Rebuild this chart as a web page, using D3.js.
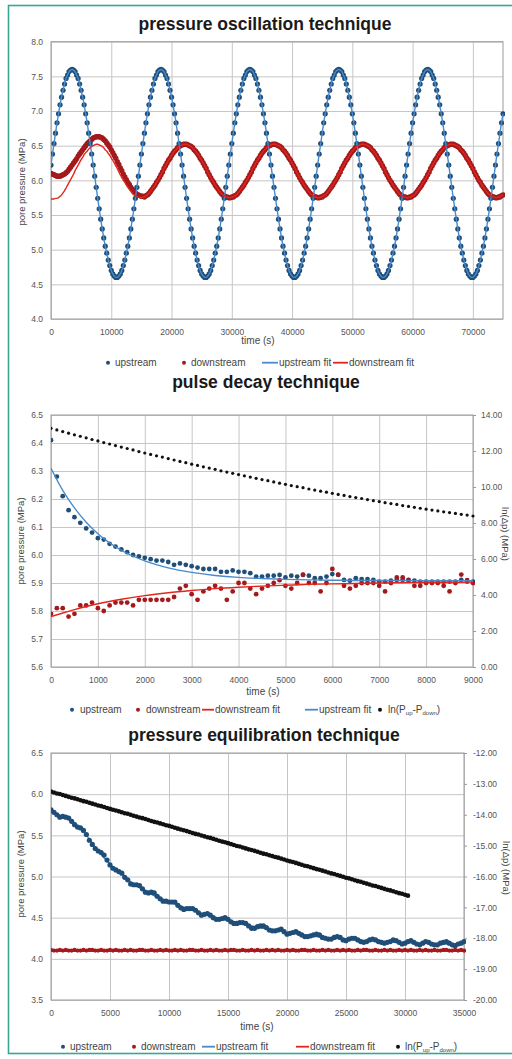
<!DOCTYPE html>
<html><head><meta charset="utf-8">
<script src="https://cdn.jsdelivr.net/npm/d3@7"></script>
<style>body{margin:0;background:#fff}svg{display:block}</style>
</head><body><svg id="c" width="512" height="1059"></svg>
<script>
// ---------------- DATA ----------------
// Panel 1: pressure oscillation technique (sampling interval 250 s)
const oscStep = 250;
const oscUpstream = [
6.22,6.38,6.53,6.68,6.83,6.96,7.09,7.20,7.30,7.39,7.47,7.52,7.57,7.59,
7.60,7.59,7.57,7.52,7.47,7.39,7.30,7.20,7.09,6.96,6.83,6.68,6.53,6.38,6.22,6.06,5.90,5.74,5.59,5.44,5.30,5.17,5.05,4.95,4.85,4.77,4.70,4.65,4.62,4.60,4.60,4.62,4.65,4.70,4.77,4.85,4.95,5.05,5.17,5.30,5.44,5.59,5.74,5.90,6.06,6.22,6.38,6.53,6.68,6.83,6.96,7.09,7.20,7.30,7.39,7.47,7.52,7.57,7.59,
7.60,7.59,7.57,7.52,7.47,7.39,7.30,7.20,7.09,6.96,6.83,6.68,6.53,6.38,6.22,6.06,5.90,5.74,5.59,5.44,5.30,5.17,5.05,4.95,4.85,4.77,4.70,4.65,4.62,4.60,4.60,4.62,4.65,4.70,4.77,4.85,4.95,5.05,5.17,5.30,5.44,5.59,5.74,5.90,6.06,6.22,6.38,6.53,6.68,6.83,6.96,7.09,7.20,7.30,7.39,7.47,7.52,7.57,7.59,
7.60,7.59,7.57,7.52,7.47,7.39,7.30,7.20,7.09,6.96,6.83,6.68,6.53,6.38,6.22,6.06,5.90,5.74,5.59,5.44,5.30,5.17,5.05,4.95,4.85,4.77,4.70,4.65,4.62,4.60,4.60,4.62,4.65,4.70,4.77,4.85,4.95,5.05,5.17,5.30,5.44,5.59,5.74,5.90,6.06,6.22,6.38,6.53,6.68,6.83,6.96,7.09,7.20,7.30,7.39,7.47,7.52,7.57,7.59,
7.60,7.59,7.57,7.52,7.47,7.39,7.30,7.20,7.09,6.96,6.83,6.68,6.53,6.38,6.22,6.06,5.90,5.74,5.59,5.44,5.30,5.17,5.05,4.95,4.85,4.77,4.70,4.65,4.62,4.60,4.60,4.62,4.65,4.70,4.77,4.85,4.95,5.05,5.17,5.30,5.44,5.59,5.74,5.90,6.06,6.22,6.38,6.53,6.68,6.83,6.96,7.09,7.20,7.30,7.39,7.47,7.52,7.57,7.59,
7.60,7.59,7.57,7.52,7.47,7.39,7.30,7.20,7.09,6.96,6.83,6.68,6.53,6.38,6.22,6.06,5.90,5.74,5.59,5.44,5.30,5.17,5.05,4.95,4.85,4.77,4.70,4.65,4.62,4.60,4.60,4.62,4.65,4.70,4.77,4.85,4.95,5.05,5.17,5.30,5.44,5.59,5.74,5.90,6.06,6.22,6.38,6.53,6.68,6.83,6.96
];
const oscDownstream = [
6.10,6.09,6.08,6.07,6.06,6.06,6.06,6.07,6.08,6.09,6.11,6.13,6.16,6.19,6.22,6.25,6.28,6.31,6.35,6.38,
6.41,6.44,6.47,6.50,6.53,6.55,6.57,6.59,6.61,6.62,6.63,6.63,6.63,6.62,6.61,6.59,6.57,6.54,6.51,6.48,
6.44,6.40,6.36,6.32,6.27,6.23,6.18,6.14,6.09,6.05,6.01,5.97,5.94,5.90,5.87,5.85,5.82,5.80,5.79,5.78,5.77,5.77,
5.76,5.78,5.79,5.81,5.84,5.87,5.90,5.93,5.97,6.00,6.04,6.08,6.12,6.17,6.21,6.25,6.29,6.32,6.36,6.39,6.42,6.44,6.47,6.49,6.50,6.51,6.52,
6.52,6.52,6.51,6.50,6.49,6.47,6.44,6.42,6.39,6.36,6.32,6.29,6.25,6.21,6.17,6.12,6.08,6.04,6.00,5.97,5.93,5.90,5.87,5.84,5.81,5.79,5.78,5.76,5.76,5.75,5.75,5.76,5.76,5.78,5.79,5.81,5.84,5.87,5.90,5.93,5.97,6.00,6.04,6.08,6.12,6.17,6.21,6.25,6.29,6.32,6.36,6.39,6.42,6.44,6.47,6.49,6.50,6.51,6.52,
6.52,6.52,6.51,6.50,6.49,6.47,6.44,6.42,6.39,6.36,6.32,6.29,6.25,6.21,6.17,6.12,6.08,6.04,6.00,5.97,5.93,5.90,5.87,5.84,5.81,5.79,5.78,5.76,5.76,5.75,5.75,5.76,5.76,5.78,5.79,5.81,5.84,5.87,5.90,5.93,5.97,6.00,6.04,6.08,6.12,6.17,6.21,6.25,6.29,6.32,6.36,6.39,6.42,6.44,6.47,6.49,6.50,6.51,6.52,
6.52,6.52,6.51,6.50,6.49,6.47,6.44,6.42,6.39,6.36,6.32,6.29,6.25,6.21,6.17,6.12,6.08,6.04,6.00,5.97,5.93,5.90,5.87,5.84,5.81,5.79,5.78,5.76,5.76,5.75,5.75,5.76,5.76,5.78,5.79,5.81,5.84,5.87,5.90,5.93,5.97,6.00,6.04,6.08,6.12,6.17,6.21,6.25,6.29,6.32,6.36,6.39,6.42,6.44,6.47,6.49,6.50,6.51,6.52,
6.52,6.52,6.51,6.50,6.49,6.47,6.44,6.42,6.39,6.36,6.32,6.29,6.25,6.21,6.17,6.12,6.08,6.04,6.00,5.97,5.93,5.90,5.87,5.84,5.81,5.79,5.78,5.76,5.76,5.75,5.75,5.76,5.76,5.78,5.79
];
const oscDownstreamFit = [
5.73,5.73,5.73,5.74,5.74,5.75,5.77,5.79,5.82,5.85,5.89,5.93,5.97,6.01,6.05,6.09,6.14,6.18,6.22,6.26,6.30,6.33,6.37,6.40,6.42,6.45,6.47,6.49,6.50,6.51,
6.52,6.52,6.51,6.50,6.49,6.47,6.44,6.42,6.39,6.36,6.32,6.29,6.25,6.21,6.17,6.12,6.08,6.04,6.00,5.97,5.93,5.90,5.87,5.84,5.81,5.79,5.78,5.76,5.76,5.75,5.75,5.76,5.76,5.78,5.79,5.81,5.84,5.87,5.90,5.93,5.97,6.00,6.04,6.08,6.12,6.17,6.21,6.25,6.29,6.32,6.36,6.39,6.42,6.44,6.47,6.49,6.50,6.51,6.52,
6.52,6.52,6.51,6.50,6.49,6.47,6.44,6.42,6.39,6.36,6.32,6.29,6.25,6.21,6.17,6.12,6.08,6.04,6.00,5.97,5.93,5.90,5.87,5.84,5.81,5.79,5.78,5.76,5.76,5.75,5.75,5.76,5.76,5.78,5.79,5.81,5.84,5.87,5.90,5.93,5.97,6.00,6.04,6.08,6.12,6.17,6.21,6.25,6.29,6.32,6.36,6.39,6.42,6.44,6.47,6.49,6.50,6.51,6.52,
6.52,6.52,6.51,6.50,6.49,6.47,6.44,6.42,6.39,6.36,6.32,6.29,6.25,6.21,6.17,6.12,6.08,6.04,6.00,5.97,5.93,5.90,5.87,5.84,5.81,5.79,5.78,5.76,5.76,5.75,5.75,5.76,5.76,5.78,5.79,5.81,5.84,5.87,5.90,5.93,5.97,6.00,6.04,6.08,6.12,6.17,6.21,6.25,6.29,6.32,6.36,6.39,6.42,6.44,6.47,6.49,6.50,6.51,6.52,
6.52,6.52,6.51,6.50,6.49,6.47,6.44,6.42,6.39,6.36,6.32,6.29,6.25,6.21,6.17,6.12,6.08,6.04,6.00,5.97,5.93,5.90,5.87,5.84,5.81,5.79,5.78,5.76,5.76,5.75,5.75,5.76,5.76,5.78,5.79,5.81,5.84,5.87,5.90,5.93,5.97,6.00,6.04,6.08,6.12,6.17,6.21,6.25,6.29,6.32,6.36,6.39,6.42,6.44,6.47,6.49,6.50,6.51,6.52,
6.52,6.52,6.51,6.50,6.49,6.47,6.44,6.42,6.39,6.36,6.32,6.29,6.25,6.21,6.17,6.12,6.08,6.04,6.00,5.97,5.93,5.90,5.87,5.84,5.81,5.79,5.78,5.76,5.76,5.75,5.75,5.76,5.76,5.78,5.79
];
const oscXTicks = [0,10000,20000,30000,40000,50000,60000,70000];
const oscYTicks = [4.0,4.5,5.0,5.5,6.0,6.5,7.0,7.5,8.0];
const oscLegend = ["upstream","downstream","upstream fit","downstream fit"];

// Panel 2: pulse decay technique (sampling interval 125 s)
const pdStep = 125;
const pdUpstream = [
6.41,6.28,6.21,6.16,6.135,6.115,6.095,6.08,6.06,6.055,
6.04,6.03,6.02,6.01,6.00,5.995,5.99,5.985,5.98,5.98,
5.975,5.965,5.97,5.965,5.96,5.955,5.95,5.95,5.95,5.94,
5.94,5.945,5.94,5.94,5.935,
5.923,5.923,5.926,5.926,5.929,5.92,5.926,5.923,5.929,5.926,
5.917,5.917,5.923,5.932,5.929,5.911,5.908,5.917,5.914,5.914,
5.911,5.905,5.905,5.908,5.911,5.911,5.911,5.908,5.905,5.905,
5.905,5.905,5.905,5.905,5.905,5.911,5.905,5.905
];
const pdDownstream = [
5.79,5.81,5.81,5.78,5.79,5.82,5.82,5.83,5.81,5.80,
5.82,5.83,5.83,5.83,5.82,5.84,5.84,5.84,5.84,5.84,
5.84,5.85,5.88,5.89,5.86,5.84,5.87,5.88,5.89,5.88,
5.84,5.87,5.90,5.90,5.88,
5.86,5.88,5.89,5.90,5.91,5.89,5.88,5.90,5.93,5.90,
5.90,5.87,5.90,5.95,5.93,5.89,5.88,5.89,5.90,5.90,
5.90,5.89,5.87,5.90,5.92,5.92,5.91,5.89,5.89,5.90,
5.90,5.90,5.89,5.87,5.90,5.93,5.91,5.90
];
const pdLnDp = [
13.26,13.17,13.08,12.99,12.90,12.82,12.73,12.64,12.56,12.47,
12.39,12.30,12.22,12.14,12.06,11.97,11.89,11.81,11.73,11.66,
11.58,11.50,11.42,11.35,11.27,11.20,11.12,11.05,10.98,10.90,
10.83,10.76,10.69,10.62,10.55,10.48,10.41,10.35,10.28,10.21,
10.15,10.08,10.02,9.96,9.89,9.83,9.77,9.71,9.65,9.59,
9.53,9.47,9.41,9.36,9.30,9.24,9.19,9.13,9.08,9.03,
8.97,8.92,8.87,8.82,8.77,8.72,8.67,8.62,8.58,8.53,
8.48,8.44,8.39
];
const pdFitTimes = [0,250,500,750,1000,1500,2000,2500,3000,3500,4000,4500,5000,5500,6000,6500,7000,7500,8000,8500,9000];
const pdUpstreamFit = [6.310,6.231,6.168,6.117,6.076,6.017,5.979,5.954,5.938,5.927,5.920,5.916,5.913,5.911,5.910,5.909,5.909,5.909,5.908,5.908,5.908];
const pdDownstreamFit = [5.780,5.793,5.805,5.816,5.826,5.842,5.855,5.865,5.873,5.880,5.885,5.889,5.892,5.895,5.897,5.898,5.900,5.901,5.902,5.902,5.903];
const pdXTicks = [0,1000,2000,3000,4000,5000,6000,7000,8000,9000];
const pdYTicks = [5.6,5.7,5.8,5.9,6.0,6.1,6.2,6.3,6.4,6.5];
const pdYRTicks = [0,2,4,6,8,10,12,14];
const pdLegend = ["upstream","downstream","downstream fit","upstream fit"];

// Panel 3: pressure equilibration technique (sampling interval 250 s)
const eqStep = 250;
const eqUpstream = [
5.81,5.78,5.75,5.72,5.73,5.72,5.71,5.67,5.63,5.60,
5.59,5.56,5.51,5.44,5.39,5.34,5.31,5.29,5.26,5.20,
5.14,5.10,5.08,5.06,5.04,4.99,4.96,4.91,4.90,4.90,
4.89,4.85,4.81,4.80,4.81,4.80,4.76,4.73,4.70,4.70,
4.69,4.69,4.69,4.65,4.62,4.60,4.61,4.61,4.61,4.59,
4.56,4.53,4.54,4.55,4.53,4.50,4.48,4.48,4.49,4.50,
4.48,4.45,4.43,4.43,4.44,4.44,4.43,4.40,4.37,4.37,
4.39,4.40,4.40,4.38,4.35,4.34,4.34,4.35,4.36,4.33,
4.30,4.31,4.32,4.33,4.31,4.29,4.27,4.27,4.28,4.29,
4.30,4.29,4.26,4.25,4.24,4.24,4.26,4.27,4.26,4.23,
4.22,4.24,4.25,4.25,4.23,4.21,4.20,4.21,4.23,4.24,
4.23,4.21,4.20,4.19,4.20,4.21,4.23,4.22,4.20,4.18,
4.19,4.21,4.22,4.20,4.18,4.17,4.19,4.21,4.20,4.18,
4.17,4.17,4.19,4.20,4.21,4.19,4.17,4.16,4.18,4.19,
4.21
];
const eqDownstream = [
4.11,4.10,4.10,4.11,4.10,4.11,4.10,4.10,4.11,4.10,
4.10,4.11,4.10,4.11,4.11,4.10,4.10,4.11,4.10,4.10,
4.11,4.10,4.11,4.10,4.10,4.11,4.10,4.11,4.10,4.10,
4.11,4.11,4.10,4.10,4.11,4.10,4.10,4.11,4.10,4.11,
4.10,4.10,4.11,4.10,4.11,4.10,4.10,4.11,4.11,4.10,
4.10,4.11,4.10,4.10,4.11,4.10,4.11,4.10,4.10,4.11,
4.10,4.11,4.11,4.10,4.10,4.11,4.10,4.10,4.11,4.10,
4.11,4.10,4.10,4.11,4.10,4.11,4.10,4.11,4.10,4.10,
4.11,4.10,4.11,4.10,4.10,4.11,4.11,4.10,4.10,4.11,
4.10,4.10,4.11,4.10,4.11,4.10,4.10,4.11,4.10,4.11,
4.10,4.11,4.10,4.10,4.11,4.10,4.11,4.11,4.10,4.10,
4.11,4.10,4.10,4.11,4.10,4.11,4.10,4.10,4.11,4.10,
4.11,4.10,4.11,4.10,4.10,4.11,4.10,4.11,4.10,4.10,
4.11,4.10,4.10,4.11,4.11,4.10,4.10,4.11,4.10,4.11,
4.10
];
const eqLnDp = [
-13.25,-13.28,-13.31,-13.33,-13.36,-13.39,-13.42,-13.45,-13.47,-13.50,
-13.53,-13.56,-13.58,-13.61,-13.64,-13.67,-13.70,-13.72,-13.75,-13.78,
-13.81,-13.84,-13.86,-13.89,-13.92,-13.95,-13.97,-14.00,-14.03,-14.06,
-14.09,-14.11,-14.14,-14.17,-14.20,-14.23,-14.25,-14.28,-14.31,-14.34,
-14.36,-14.39,-14.42,-14.45,-14.48,-14.50,-14.53,-14.56,-14.59,-14.62,
-14.64,-14.67,-14.70,-14.73,-14.75,-14.78,-14.81,-14.84,-14.87,-14.89,
-14.92,-14.95,-14.98,-15.01,-15.03,-15.06,-15.09,-15.12,-15.14,-15.17,
-15.20,-15.23,-15.26,-15.28,-15.31,-15.34,-15.37,-15.39,-15.42,-15.45,
-15.48,-15.51,-15.53,-15.56,-15.59,-15.62,-15.65,-15.67,-15.70,-15.73,
-15.76,-15.78,-15.81,-15.84,-15.87,-15.90,-15.92,-15.95,-15.98,-16.01,
-16.04,-16.06,-16.09,-16.12,-16.15,-16.17,-16.20,-16.23,-16.26,-16.29,
-16.31,-16.34,-16.37,-16.40,-16.43,-16.45,-16.48,-16.51,-16.54,-16.56,
-16.59,-16.62
];
const eqUpFitTimes = [0,1000,2000,3000,4000,5000,6000,7000,8000,9000,10000,11000,12000,13000,14000,15000,16000,17000,18000,19000,20000,21000,22000,23000,24000,25000,26000,27000,28000,29000,30000,31000,32000,33000,34000,35000];
const eqUpstreamFit = [5.78,5.73,5.65,5.50,5.31,5.15,5.02,4.91,4.82,4.75,4.69,4.64,4.59,4.54,4.50,4.46,4.43,4.40,4.37,4.35,4.32,4.30,4.28,4.26,4.25,4.24,4.23,4.22,4.21,4.20,4.20,4.19,4.19,4.18,4.18,4.18];
const eqDownFitTimes = [0,35000];
const eqDownstreamFit = [4.09,4.09];
const eqXTicks = [0,5000,10000,15000,20000,25000,30000,35000];
const eqYTicks = [3.5,4.0,4.5,5.0,5.5,6.0,6.5];
const eqYRTicks = [-20,-19,-18,-17,-16,-15,-14,-13,-12];
const eqLegend = ["upstream","downstream","upstream fit","downstream fit"];

// ---------------- DRAWING ----------------
const FONT = '"Liberation Sans", Arial, Helvetica, sans-serif';
const C = {up:"#1f4e79", upFit:"#4a8ac9", down:"#a3191c", downFit:"#e3261c", ln:"#111111",
           grid:"#c6c6c6", frame:"#9a9a9a", tick:"#555555", teal:"#3aa596"};
const svg = d3.select("#c");
svg.append("rect").attr("x",8.5).attr("y",5.5).attr("width",540).attr("height",1048)
  .attr("fill","#fff").attr("stroke",C.teal).attr("stroke-width",1.6);

function series(values, step){ return values.map((v,i)=>({t:i*step, v})); }
function paired(times, values){ return values.map((v,i)=>({t:times[i], v})); }

function panel(p){
  const g = svg.append("g");
  const x = d3.scaleLinear().domain(p.xDomain).range([p.left,p.right]);
  const y = d3.scaleLinear().domain(p.yDomain).range([p.bottom,p.top]);
  const yR = p.yRDomain ? d3.scaleLinear().domain(p.yRDomain).range([p.bottom,p.top]) : null;
  const W = p.right-p.left, H = p.bottom-p.top;
  const TF = 8.5;

  const ga = g.append("g").attr("transform",`translate(${p.left},0)`)
    .call(d3.axisLeft(y).tickValues(p.yTicks).tickSize(-W).tickPadding(8).tickFormat(d=>d.toFixed(1)));
  ga.select(".domain").remove();
  ga.selectAll(".tick line").attr("stroke",C.grid);
  ga.selectAll("text").attr("fill",C.tick).attr("font-size",TF).attr("font-family",FONT);
  const gx = g.append("g").attr("transform",`translate(0,${p.bottom})`)
    .call(d3.axisBottom(x).tickValues(p.xTicks).tickSize(-H).tickPadding(10).tickFormat(d=>String(d)));
  gx.select(".domain").remove();
  gx.selectAll(".tick line").attr("stroke",C.grid);
  gx.selectAll("text").attr("fill",C.tick).attr("font-size",TF).attr("font-family",FONT);
  if(yR){
    const gr = g.append("g").attr("transform",`translate(${p.right},0)`)
      .call(d3.axisRight(yR).tickValues(p.yRTicks).tickSize(3).tickPadding(p.rPad).tickFormat(d=>d.toFixed(2)));
    gr.select(".domain").remove();
    gr.selectAll(".tick line").attr("stroke",C.frame);
    gr.selectAll("text").attr("fill",C.tick).attr("font-size",TF).attr("font-family",FONT);
  }
  g.append("rect").attr("x",p.left).attr("y",p.top).attr("width",W).attr("height",H)
    .attr("fill","none").attr("stroke",C.frame).attr("stroke-width",1);

  g.append("text").attr("x",p.titleX).attr("y",p.titleY).attr("text-anchor","middle")
    .attr("font-family",FONT).attr("font-weight","bold").attr("font-size",17.5).attr("fill","#1a1a1a").text(p.title);
  g.append("text").attr("transform",`translate(${p.yTitleX},${p.yTitleY}) rotate(-90)`).attr("text-anchor","middle")
    .attr("font-family",FONT).attr("font-size",9.5).attr("fill","#444").text("pore pressure (MPa)");
  g.append("text").attr("x",p.xTitleX).attr("y",p.xTitleY).attr("text-anchor","middle")
    .attr("font-family",FONT).attr("font-size",10).attr("fill","#444").text("time (s)");
  if(yR){
    g.append("text").attr("transform",`translate(${p.yRTitleX},${p.yRTitleY}) rotate(90)`).attr("text-anchor","middle")
      .attr("font-family",FONT).attr("font-size",9.5).attr("fill","#444").text("ln(Δp) (MPa)");
  }

  const clipId = "clip"+p.id;
  g.append("clipPath").attr("id",clipId).append("rect").attr("x",p.left).attr("y",p.top-4).attr("width",W+2).attr("height",H+8);
  const m = g.append("g").attr("clip-path",`url(#${clipId})`);
  p.marks.forEach(mk=>{
    const sc = mk.right ? yR : y;
    if(mk.type==="dots"){
      m.append("g").selectAll("circle").data(mk.data).join("circle")
        .attr("cx",d=>x(d.t)).attr("cy",d=>sc(d.v)).attr("r",mk.r).attr("fill",mk.color);
    } else {
      m.append("path").datum(mk.data).attr("fill","none").attr("stroke",mk.color).attr("stroke-width",mk.w)
        .attr("d",d3.line().x(d=>x(d.t)).y(d=>sc(d.v)).curve(d3.curveMonotoneX));
    }
  });

  const lg = g.append("g").attr("font-family",FONT).attr("font-size",10).attr("fill","#444");
  p.legend.forEach(it=>{
    const cy = p.legY-3.3;
    if(it.kind==="dot") lg.append("circle").attr("cx",it.x).attr("cy",cy).attr("r",2).attr("fill",it.color);
    else lg.append("line").attr("x1",it.x).attr("x2",it.x2).attr("y1",cy).attr("y2",cy).attr("stroke",it.color).attr("stroke-width",1.8);
    const t = lg.append("text").attr("x",it.tx).attr("y",p.legY);
    if(it.ln){
      t.append("tspan").text("ln(P");
      t.append("tspan").attr("font-size",6).attr("dy",2).text("up");
      t.append("tspan").attr("dy",-2).text("-P");
      t.append("tspan").attr("font-size",6).attr("dy",2).text("down");
      t.append("tspan").attr("dy",-2).text(")");
    } else t.text(it.label);
  });
}

panel({id:1, left:51, right:503, top:41.7, bottom:319, xDomain:[0,75000], yDomain:[4,8],
  xTicks:oscXTicks, yTicks:oscYTicks, title:"pressure oscillation technique", titleX:265, titleY:29.5,
  yTitleX:24.5, yTitleY:182, xTitleX:258, xTitleY:344,
  marks:[
    {type:"dots", data:series(oscDownstream,oscStep), r:2.7, color:C.down},
    {type:"dots", data:series(oscUpstream,oscStep), r:2.6, color:C.up},
    {type:"line", data:series(oscUpstream,oscStep), w:1.4, color:C.upFit},
    {type:"line", data:series(oscDownstreamFit,oscStep), w:1.4, color:C.downFit}
  ],
  legY:366, legend:[
    {kind:"dot", x:108, tx:115, color:C.up, label:oscLegend[0]},
    {kind:"dot", x:184, tx:191, color:C.down, label:oscLegend[1]},
    {kind:"line", x:262, x2:278, tx:279, color:C.upFit, label:oscLegend[2]},
    {kind:"line", x:333, x2:348, tx:349, color:C.downFit, label:oscLegend[3]}
  ]});

panel({id:2, left:51, right:473, top:415, bottom:667, xDomain:[0,9000], yDomain:[5.6,6.5], yRDomain:[0,14],
  xTicks:pdXTicks, yTicks:pdYTicks, yRTicks:pdYRTicks, rPad:5, title:"pulse decay technique", titleX:266, titleY:388,
  yTitleX:24, yTitleY:541, xTitleX:263, xTitleY:695, yRTitleX:502, yRTitleY:534,
  marks:[
    {type:"dots", data:series(pdUpstream,pdStep), r:2.4, color:C.up},
    {type:"dots", data:series(pdDownstream,pdStep), r:2.4, color:C.down},
    {type:"line", data:paired(pdFitTimes,pdDownstreamFit), w:1.4, color:C.downFit},
    {type:"line", data:paired(pdFitTimes,pdUpstreamFit), w:1.4, color:C.upFit},
    {type:"dots", data:series(pdLnDp,pdStep), r:1.6, color:C.ln, right:true}
  ],
  legY:713, legend:[
    {kind:"dot", x:72, tx:80, color:C.up, label:pdLegend[0]},
    {kind:"dot", x:138, tx:146, color:C.down, label:pdLegend[1]},
    {kind:"line", x:202, x2:214, tx:215, color:C.downFit, label:pdLegend[2]},
    {kind:"line", x:305, x2:318, tx:319, color:C.upFit, label:pdLegend[3]},
    {kind:"dot", x:380, tx:388, color:C.ln, ln:true}
  ]});

panel({id:3, left:51, right:464, top:753, bottom:1000, xDomain:[0,35000], yDomain:[3.5,6.5], yRDomain:[-20,-12],
  xTicks:eqXTicks, yTicks:eqYTicks, yRTicks:eqYRTicks, rPad:6, title:"pressure equilibration technique", titleX:264, titleY:741,
  yTitleX:24, yTitleY:874, xTitleX:257, xTitleY:1030, yRTitleX:503, yRTitleY:868,
  marks:[
    {type:"line", data:paired(eqUpFitTimes,eqUpstreamFit), w:1.3, color:C.upFit},
    {type:"line", data:paired(eqDownFitTimes,eqDownstreamFit), w:1.3, color:C.downFit},
    {type:"dots", data:series(eqUpstream,eqStep), r:2.6, color:C.up},
    {type:"dots", data:series(eqDownstream,eqStep), r:2.1, color:C.down},
    {type:"dots", data:series(eqLnDp,eqStep), r:2.3, color:C.ln, right:true}
  ],
  legY:1050, legend:[
    {kind:"dot", x:63, tx:70, color:C.up, label:eqLegend[0]},
    {kind:"dot", x:134, tx:141, color:C.down, label:eqLegend[1]},
    {kind:"line", x:202, x2:215, tx:216, color:C.upFit, label:eqLegend[2]},
    {kind:"line", x:296, x2:309, tx:310, color:C.downFit, label:eqLegend[3]},
    {kind:"dot", x:398, tx:405, color:C.ln, ln:true}
  ]});
</script></body></html>
